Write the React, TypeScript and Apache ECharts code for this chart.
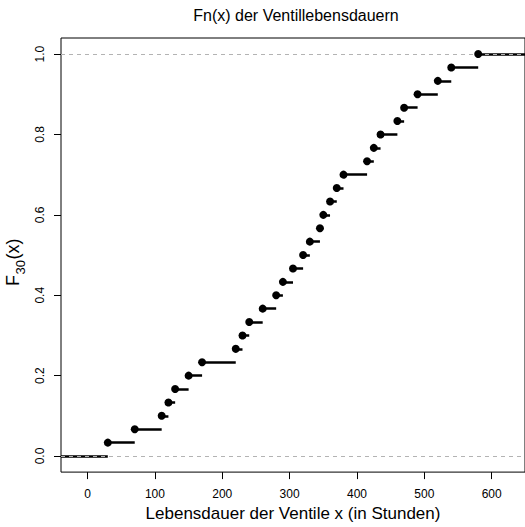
import React, { useEffect, useRef } from "react";
import * as echarts from "echarts";

// Lifetimes of the 30 valves (hours), sorted
const lifetimes = [
  30, 70, 110, 120, 130, 150, 170, 220, 230, 240,
  260, 280, 290, 305, 320, 330, 345, 350, 360, 370,
  380, 415, 425, 435, 460, 470, 490, 520, 540, 580,
];
const xTicks = [0, 100, 200, 300, 400, 500, 600];
const yTicks = [0, 0.2, 0.4, 0.6, 0.8, 1.0];
const xLimits = [-39.5, 649.5];
const yLimits = [-0.04, 1.04];
const refLevels = [0, 1];

const FONT = "'Liberation Sans', Arial, Helvetica, sans-serif";

export default function App() {
  const ref = useRef<HTMLDivElement>(null);
  useEffect(() => {
    if (!ref.current) return;
    const chart = echarts.init(ref.current, undefined, { renderer: "svg" });
    const n = lifetimes.length;
    const points = lifetimes.map((x, i) => [x, (i + 1) / n]);
    const segments: any[] = [];
    segments.push({ coords: [[xLimits[0], 0], [lifetimes[0], 0]] });
    lifetimes.forEach((x, i) => {
      const next = i + 1 < n ? lifetimes[i + 1] : xLimits[1];
      segments.push({ coords: [[x, (i + 1) / n], [next, (i + 1) / n]] });
    });
    const refLines = refLevels.map((y) => ({ coords: [[xLimits[0], y], [xLimits[1], y]] }));

    chart.setOption({
      animation: false,
      backgroundColor: "#fff",
      textStyle: { fontFamily: FONT },
      grid: {
        left: 61,
        right: -5,
        top: 38,
        bottom: 47.5,
        show: true,
        borderColor: "#000",
        borderWidth: 1,
        backgroundColor: "transparent",
      },
      xAxis: {
        type: "value",
        min: xLimits[0],
        max: xLimits[1],
        axisLine: { show: false, onZero: false },
        splitLine: { show: false },
        axisTick: {
          show: true,
          length: 7,
          inside: false,
          customValues: xTicks,
          lineStyle: { color: "#000", width: 1 },
        },
        axisLabel: {
          customValues: xTicks,
          color: "#000",
          fontSize: 12,
          fontFamily: FONT,
          margin: 16,
          formatter: (v: number) => String(v),
        },
        name: "Lebensdauer der Ventile x (in Stunden)",
        nameLocation: "middle",
        nameGap: 30,
        nameTextStyle: { fontSize: 17, color: "#000", fontFamily: FONT },
      },
      yAxis: {
        type: "value",
        min: yLimits[0],
        max: yLimits[1],
        axisLine: { show: false, onZero: false },
        splitLine: { show: false },
        axisTick: {
          show: true,
          length: 7,
          inside: false,
          customValues: yTicks,
          lineStyle: { color: "#000", width: 1 },
        },
        axisLabel: {
          customValues: yTicks,
          color: "#000",
          fontSize: 12,
          fontFamily: FONT,
          rotate: 90,
          margin: 15,
          formatter: (v: number) => v.toFixed(1),
        },
      },
      graphic: [
        {
          type: "text",
          x: 296,
          y: 15,
          style: {
            text: "Fn(x) der Ventillebensdauern",
            font: `16px ${FONT}`,
            fill: "#000",
            align: "center",
            verticalAlign: "middle",
          },
        },
        {
          type: "group",
          x: 22,
          y: 286,
          rotation: Math.PI / 2,
          children: [
            {
              type: "text",
              x: 0,
              y: 0,
              style: { text: "F", font: `18px ${FONT}`, fill: "#000000", align: "left", verticalAlign: "bottom" },
            },
            {
              type: "text",
              x: 11.5,
              y: 5,
              style: { text: "30", font: `13px ${FONT}`, fill: "#000000", align: "left", verticalAlign: "bottom" },
            },
            {
              type: "text",
              x: 26.5,
              y: 0,
              style: { text: "(x)", font: `18px ${FONT}`, fill: "#000000", align: "left", verticalAlign: "bottom" },
            },
          ],
        },
      ],
      series: [
        {
          type: "lines",
          coordinateSystem: "cartesian2d",
          data: segments,
          lineStyle: { color: "#000", width: 2.5, opacity: 1 },
          z: 2,
          silent: true,
        },
        {
          type: "lines",
          coordinateSystem: "cartesian2d",
          data: refLines,
          lineStyle: { color: "#b3b3b3", width: 1, type: [4, 4], opacity: 1 },
          z: 3,
          silent: true,
        },
        {
          type: "scatter",
          data: points,
          symbol: "circle",
          symbolSize: 8,
          itemStyle: { color: "#000", opacity: 1 },
          z: 4,
          silent: true,
        },
      ],
    });
    return () => chart.dispose();
  }, []);
  return (
    <div
      ref={ref}
      style={{ position: "fixed", left: 0, top: 0, width: 525, height: 527 }}
    />
  );
}
